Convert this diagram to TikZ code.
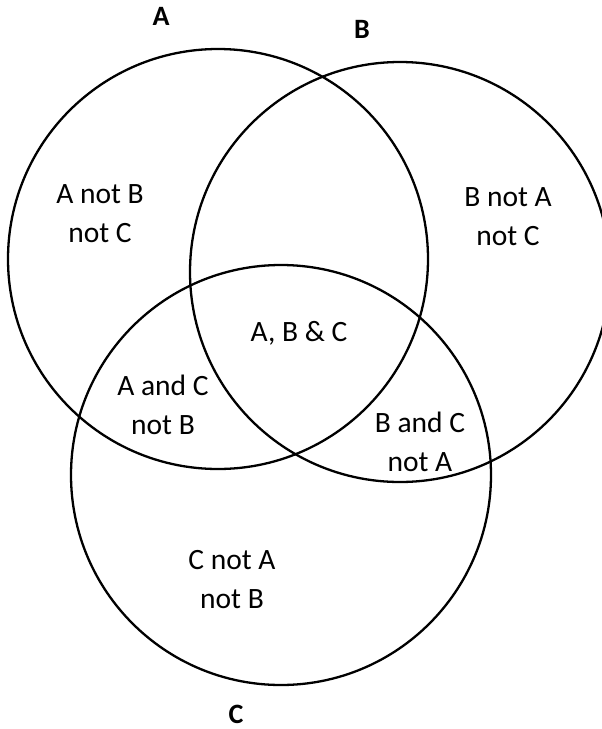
\documentclass[tikz,border=0pt]{standalone}
\usepackage{fontspec}
\setmainfont{Carlito}
\usepackage{tikz}

\tikzset{
  region/.style={align=center,font=\fontsize{29.5}{39}\selectfont},
  setname/.style={font=\fontsize{28}{34}\selectfont\bfseries}
}

\begin{document}
\begin{tikzpicture}[x=1pt,y=-1pt,line width=2.3pt]
  \useasboundingbox (0,0) rectangle (602,729);
  \clip (0,0) rectangle (602,729);
  \draw (218,259) circle (210);
  \draw (400,272) circle (210);
  \draw (281,475) circle (210);
  \node[setname] (nameA) at (161,16) {A};
  \node[setname] (nameB) at (362,29) {B};
  \node[setname] (nameC) at (236,714) {C};
  \node[region] (onlyA) at (100,214) {A not B\\not C};
  \node[region] (onlyB) at (508,217) {B not A\\not C};
  \node[region] (allABC) at (299,333) {A, B \& C};
  \node[region] (onlyAC) at (163,405) {A and C\\not B};
  \node[region] (onlyBC) at (420,442) {B and C\\not A};
  \node[region] (onlyC) at (232,580) {C not A\\not B};
\end{tikzpicture}
\end{document}
